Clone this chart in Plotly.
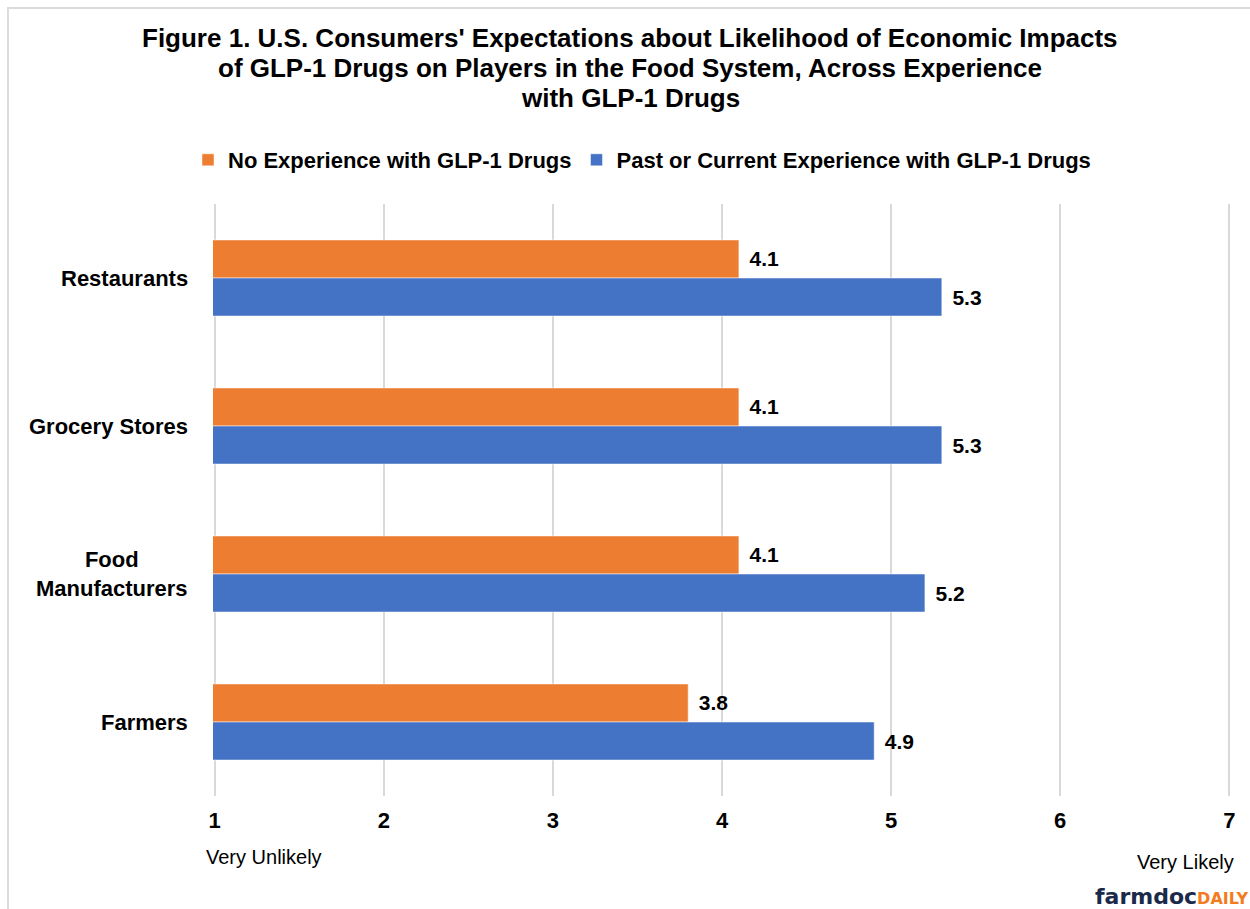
import plotly.graph_objects as go

categories = ["Restaurants", "Grocery Stores", "Food Manufacturers", "Farmers"]
category_labels = ["Restaurants", "Grocery Stores", "Food<br>Manufacturers", "Farmers"]
no_experience = [4.1, 4.1, 4.1, 3.8]
with_experience = [5.3, 5.3, 5.2, 4.9]
series_names = ["No Experience with GLP-1 Drugs", "Past or Current Experience with GLP-1 Drugs"]
x_ticks = [1, 2, 3, 4, 5, 6, 7]
title_lines = [
    "Figure 1. U.S. Consumers' Expectations about Likelihood of Economic Impacts",
    "of GLP-1 Drugs on Players in the Food System, Across Experience",
    "with GLP-1 Drugs",
]

OFF = 0  # body margin removed via post_script
W, H = 1250, 909
# plot area in page pixels: x 213..1231, y 204..796
L = 213 - OFF
T = 204 - OFF
R = W - (1231 - OFF)
B = H - (796 - OFF)
PW, PH = W - L - R, H - T - B

def px_x(p):  # page pixel -> paper x
    return (p - OFF - L) / PW

def px_y(p):  # page pixel -> paper y
    return (H - B - (p - OFF)) / PH

FONT = "Liberation Sans, Arial, sans-serif"
ORANGE = "#ED7D31"
BLUE = "#4472C4"

fig = go.Figure()
for name, vals, col in [(series_names[0], no_experience, ORANGE),
                        (series_names[1], with_experience, BLUE)]:
    fig.add_trace(go.Bar(
        y=categories, x=vals, name=name, orientation="h",
        marker=dict(color=col, line=dict(color="rgba(255,255,255,0.5)", width=1)),
        text=vals, texttemplate="\u00a0\u200a%{x:.1f}", textposition="outside",
        textfont=dict(family=FONT, size=21, color="#000000", weight="bold"),
        constraintext="none", cliponaxis=False, hoverinfo="skip",
    ))

annotations = []
for line, yc in zip(title_lines, [38, 68, 98]):
    annotations.append(dict(
        x=px_x(630), y=px_y(yc), xref="paper", yref="paper", xanchor="center", yanchor="middle",
        text=f"<b>{line}</b>", showarrow=False,
        font=dict(family=FONT, size=26, color="#000000"),
    ))
for cat, lab in zip(categories, category_labels):
    annotations.append(dict(
        x=0, xref="paper", y=cat, yref="y", xanchor="right", yanchor="middle",
        xshift=-23, text=f"<b>{lab}</b>", showarrow=False, align="center",
        font=dict(family=FONT, size=22, color="#000000"),
    ))
annotations += [
    dict(x=px_x(204), y=px_y(857), xref="paper", yref="paper", xanchor="left", yanchor="middle",
         text="Very Unlikely", showarrow=False, font=dict(family=FONT, size=20, color="#000000")),
    dict(x=px_x(1236), y=px_y(862), xref="paper", yref="paper", xanchor="right", yanchor="middle",
         text="Very Likely", showarrow=False, font=dict(family=FONT, size=20, color="#000000")),
    dict(x=px_x(1250), y=px_y(896), xref="paper", yref="paper", xanchor="right", yanchor="middle",
         text="<span style='color:#1B2A4A;font-size:22px'><b>farmdoc</b></span>"
              "<span style='color:#F47B20;font-size:16px'><b>DAILY</b></span>",
         showarrow=False, font=dict(family="DejaVu Sans, sans-serif", size=18)),
]

shapes = [
    dict(type="line", xref="paper", yref="paper", x0=px_x(7), x1=px_x(1260), y0=px_y(8), y1=px_y(8),
         line=dict(color="#DCDCDC", width=2)),
    dict(type="line", xref="paper", yref="paper", x0=px_x(8), x1=px_x(8), y0=px_y(8), y1=px_y(920),
         line=dict(color="#DCDCDC", width=2)),
]

fig.update_layout(
    width=W, height=H,
    margin=dict(l=L, r=R, t=T, b=B, autoexpand=False),
    paper_bgcolor="white", plot_bgcolor="white",
    barmode="group", bargap=0.486, bargroupgap=0,
    font=dict(family=FONT, size=21, color="#000000"),
    legend=dict(
        orientation="h", x=px_x(642), xanchor="center", y=px_y(160), yanchor="middle",
        font=dict(family=FONT, size=22, color="#000000", weight="bold"),
        traceorder="normal", itemclick=False, itemdoubleclick=False,
        itemwidth=30, tracegroupgap=0,
    ),
    xaxis=dict(
        range=[0.99, 7.01], tickvals=x_ticks, ticktext=[f"<b>{v}</b>" for v in x_ticks],
        showgrid=True, gridcolor="#D9D9D9", gridwidth=1.5, zeroline=False,
        showline=False, ticks="", ticklabelstandoff=9,
        tickfont=dict(family=FONT, size=22, color="#000000"),
    ),
    yaxis=dict(
        categoryorder="array", categoryarray=categories, autorange="reversed",
        showticklabels=False, showgrid=False, zeroline=False, showline=False, ticks="",
    ),
    annotations=annotations, shapes=shapes,
)

fig.write_html(
    "out.html",
    config={"displayModeBar": False},
    post_script="document.body.style.margin='0';document.body.style.overflow='hidden';"
                "document.documentElement.style.overflow='hidden';",
)
